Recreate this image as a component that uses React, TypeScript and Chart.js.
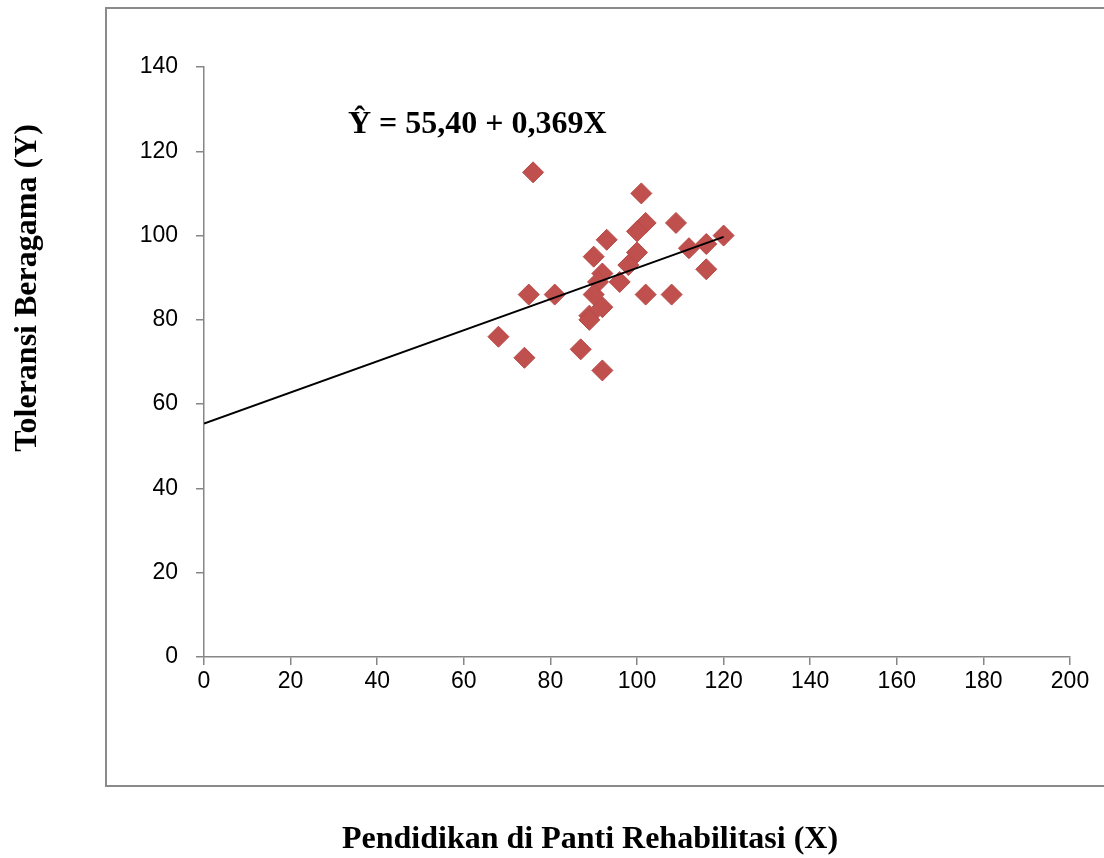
import React, { useEffect, useRef } from "react";
import { Chart, registerables } from "chart.js";

Chart.register(...registerables);

const xValues = [76, 101, 102, 100, 109, 120, 116, 112, 93, 100, 90, 98, 92, 116, 96, 91, 90, 75, 81, 102, 108, 92, 89, 89, 68, 87, 74, 92];
const yValues = [115, 110, 103, 101, 103, 100, 98, 97, 99, 96, 95, 93, 91, 92, 89, 89, 86, 86, 86, 86, 86, 83, 81, 80, 76, 73, 71, 68];

const trendX = [0, 120];
const trendY = [55.4, 99.7];

const equationText = "Ŷ = 55,40 + 0,369X";
const xTitle = "Pendidikan di Panti Rehabilitasi (X)";
const yTitle = "Toleransi Beragama (Y)";

const X_MIN = 0, X_MAX = 200, X_STEP = 20;
const Y_MIN = 0, Y_MAX = 140, Y_STEP = 20;

const GRAY = "#868686";
const MARKER = "#C0504D";
const SERIF_BOLD = "bold 32px 'Liberation Serif', 'Times New Roman', serif";

export default function App() {
  const ref = useRef<HTMLCanvasElement | null>(null);

  useEffect(() => {
    if (!ref.current) return;

    const framePlugin = {
      id: "frame",
      beforeDraw(chart: any) {
        const ctx = chart.ctx;
        ctx.save();
        ctx.fillStyle = "#ffffff";
        ctx.fillRect(0, 0, chart.width, chart.height);
        ctx.strokeStyle = "#8a8a8a";
        ctx.lineWidth = 2;
        ctx.strokeRect(106, 8, chart.width + 100, 778);
        ctx.restore();
      },
      afterDraw(chart: any) {
        const ctx = chart.ctx;
        const area = chart.chartArea;
        ctx.save();
        ctx.fillStyle = "#000000";
        ctx.font = SERIF_BOLD;
        ctx.textBaseline = "alphabetic";
        ctx.textAlign = "left";
        ctx.fillText(equationText, area.left + 144, area.top + 66);

        // axis titles, placed outside the frame as in the original layout
        ctx.textBaseline = "middle";
        ctx.textAlign = "center";
        ctx.fillText(xTitle, 590, 840);
        ctx.translate(28, 288);
        ctx.rotate(-Math.PI / 2);
        ctx.fillText(yTitle, 0, 0);
        ctx.restore();
      },
    };

    const chart = new Chart(ref.current, {
      type: "scatter",
      data: {
        datasets: [
          {
            type: "line",
            label: "Trend",
            data: trendX.map((x, i) => ({ x, y: trendY[i] })),
            borderColor: "#000000",
            borderWidth: 2,
            pointRadius: 0,
            fill: false,
            order: 0,
          } as any,
          {
            label: "Data",
            data: xValues.map((x, i) => ({ x, y: yValues[i] })),
            pointStyle: "rectRot",
            pointRadius: 10.5,
            backgroundColor: MARKER,
            borderColor: "#B84A47",
            borderWidth: 1,
            order: 1,
          },
        ],
      },
      options: {
        animation: false,
        responsive: false,
        maintainAspectRatio: false,
        layout: { padding: { top: 67, right: 34, left: 0, bottom: 0 } },
        plugins: {
          legend: { display: false },
          tooltip: { enabled: false },
        },
        scales: {
          x: {
            type: "linear",
            min: X_MIN,
            max: X_MAX,
            ticks: {
              stepSize: X_STEP,
              color: "#000000",
              padding: 3,
              font: { family: "'Liberation Sans', Arial, sans-serif", size: 23 },
            },
            grid: {
              drawOnChartArea: false,
              drawTicks: true,
              tickLength: 8,
              color: GRAY,
              lineWidth: 1.5,
            },
            border: { color: GRAY, width: 1.5 },
            title: { display: false, text: xTitle },
            afterFit(scale: any) {
              scale.height = 201;
            },
          },
          y: {
            type: "linear",
            min: Y_MIN,
            max: Y_MAX,
            ticks: {
              stepSize: Y_STEP,
              color: "#000000",
              padding: 18,
              font: { family: "'Liberation Sans', Arial, sans-serif", size: 23 },
            },
            grid: {
              drawOnChartArea: false,
              drawTicks: true,
              tickLength: 8,
              color: GRAY,
              lineWidth: 1.5,
            },
            border: { color: GRAY, width: 1.5 },
            title: { display: false, text: yTitle },
            afterFit(scale: any) {
              scale.width = 204;
            },
          },
        },
      },
      plugins: [framePlugin],
    } as any);

    return () => chart.destroy();
  }, []);

  return (
    <div style={{ position: "absolute", left: 0, top: 0, width: 1104, height: 858 }}>
      <canvas ref={ref} width={1104} height={858} style={{ width: 1104, height: 858, display: "block" }} />
    </div>
  );
}
